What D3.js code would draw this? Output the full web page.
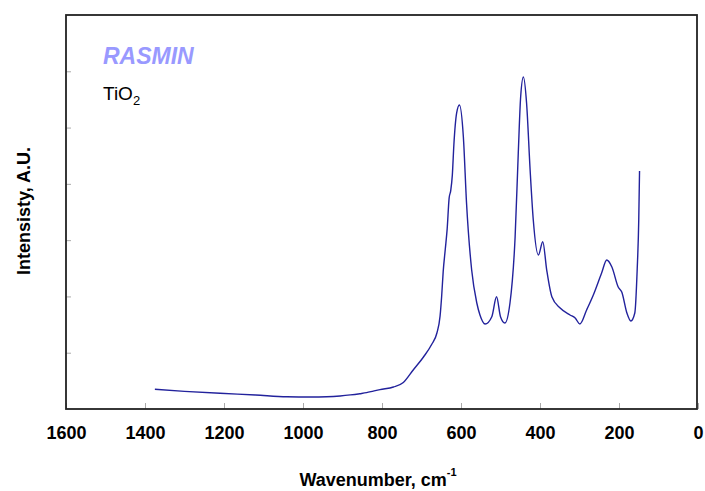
<!DOCTYPE html>
<html>
<head>
<meta charset="utf-8">
<script src="https://cdn.jsdelivr.net/npm/d3@7"></script>
<style>
  html, body { margin: 0; padding: 0; background: #fff; }
  svg { display: block; font-family: "Liberation Sans", Arial, sans-serif; }
</style>
</head>
<body>
<svg id="chart" width="705" height="491"></svg>
<script>
// ---- data ----
const wavenumbers = [1375, 1300, 1210, 1120, 1041, 980, 940, 906, 880, 856, 839, 822, 805, 771, 746, 721, 695, 674, 661, 653, 649, 645, 640, 635, 630, 626, 622, 618, 611, 604, 594, 586, 573, 560, 552, 539, 522, 510, 500, 489, 476, 463, 455, 449, 442, 434, 425, 417, 404, 393, 383, 370, 349, 324, 311, 299, 282, 265, 244, 231, 218, 202, 193, 180, 170, 160, 154, 150, 148];
const intensities = [350, 314, 279, 249, 218, 213, 218, 232, 250, 272, 290, 318, 345, 391, 471, 693, 924, 1150, 1350, 1650, 2000, 2450, 2825, 3200, 3750, 3880, 4150, 4700, 5259, 5401, 4832, 3660, 2469, 1883, 1670, 1510, 1640, 1995, 1640, 1528, 1883, 3056, 4548, 5543, 5898, 5436, 4246, 3358, 2736, 2972, 2469, 1995, 1794, 1670, 1617, 1510, 1759, 2025, 2416, 2647, 2523, 2167, 2079, 1705, 1563, 1705, 2469, 3358, 4228];
const xTicks = [1600, 1400, 1200, 1000, 800, 600, 400, 200, 0];
const yTicks = [1000, 2000, 3000, 4000, 5000, 6000];
const xDomain = [1600, 0];
const yDomain = [0, 7000];
const xTitle = "Wavenumber, cm";
const xTitleSup = "-1";
const yTitle = "Intensisty, A.U.";
const brand = "RASMIN";
const sample = "TiO";
const sampleSub = "2";

// ---- layout ----
const L = 66, R = 697, T = 15, B = 409;
const svg = d3.select("#chart");
const x = d3.scaleLinear().domain(xDomain).range([L, R + 1]);
const y = d3.scaleLinear().domain(yDomain).range([B, T]);

// x axis ticks (inside, gray) + labels
const xAxis = svg.append("g").attr("transform", `translate(0,${B})`)
  .call(d3.axisBottom(x).tickValues(xTicks).tickSize(-6).tickPadding(17).tickFormat(d3.format("d")));
xAxis.select(".domain").remove();
xAxis.selectAll(".tick line").attr("stroke", "#aaa").attr("stroke-width", 1);
xAxis.selectAll(".tick text")
  .attr("font-size", 18).attr("font-weight", "bold").attr("fill", "#000")
  .attr("font-family", "Liberation Sans, Arial, sans-serif");

// y axis ticks (inside, no labels)
const yAxis = svg.append("g").attr("transform", `translate(${L},0)`)
  .call(d3.axisLeft(y).tickValues(yTicks).tickSize(-5).tickFormat(""));
yAxis.select(".domain").remove();
yAxis.selectAll(".tick line").attr("stroke", "#aaa").attr("stroke-width", 1);

// frame
svg.append("rect").attr("x", L).attr("y", T).attr("width", R - L).attr("height", B - T)
  .attr("fill", "none").attr("stroke", "#222").attr("stroke-width", 1.8);

// spectrum
const data = wavenumbers.map((w, i) => ({ w, v: intensities[i] }));
const line = d3.line().x(d => x(d.w)).y(d => y(d.v)).curve(d3.curveMonotoneX);
svg.append("path").datum(data).attr("d", line)
  .attr("fill", "none").attr("stroke", "#22229c").attr("stroke-width", 1.4)
  .attr("stroke-linejoin", "round");

// annotations
svg.append("text").attr("x", 103).attr("y", 64).text(brand)
  .attr("font-size", 23).attr("font-weight", "bold").attr("font-style", "italic")
  .attr("fill", "#9999ff");
const s = svg.append("text").attr("x", 103).attr("y", 100).attr("font-size", 19).attr("fill", "#000");
s.append("tspan").text(sample);
s.append("tspan").text(sampleSub).attr("font-size", 13).attr("dy", 5);

// axis titles
const xt = svg.append("text").attr("x", 378).attr("y", 486).attr("text-anchor", "middle")
  .attr("font-size", 18).attr("font-weight", "bold").attr("fill", "#000");
xt.append("tspan").text(xTitle);
xt.append("tspan").text(xTitleSup).attr("font-size", 11).attr("dy", -10);

svg.append("text").attr("transform", "translate(30,211) rotate(-90)").attr("text-anchor", "middle")
  .attr("font-size", 18).attr("font-weight", "bold").attr("fill", "#000").text(yTitle);
</script>
</body>
</html>
